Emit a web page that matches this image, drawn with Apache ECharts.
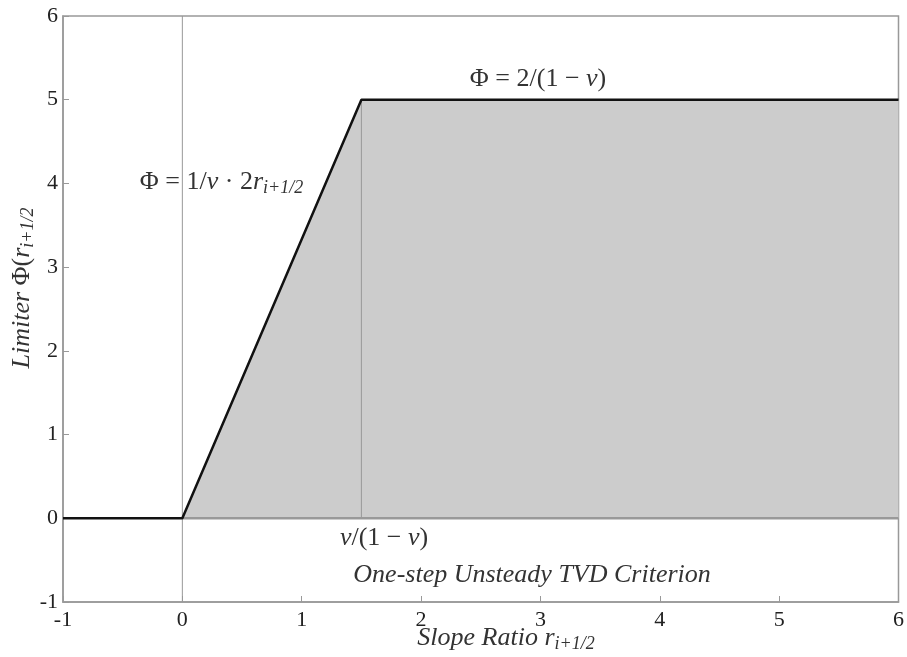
<!DOCTYPE html>
<html><head><meta charset="utf-8">
<script src="https://cdn.jsdelivr.net/npm/echarts@6/dist/echarts.min.js"></script>
<style>html,body{margin:0;padding:0;background:#fff}#c{width:907px;height:657px}</style>
</head><body><div id="c"></div>
<script>
// ---- data ----
const xTicks = [-1, 0, 1, 2, 3, 4, 5, 6];
const yTicks = [-1, 0, 1, 2, 3, 4, 5, 6];
const limiterX = [-1, 0, 1.5, 6];
const limiterY = [0, 0, 5, 5];
const regionX = [0, 1.5, 6];
const regionY = [0, 5, 5];
const ratioX = 1.5;        // v/(1-v)
const ratioTop = 5;        // 2/(1-v)

const FONT = '"Liberation Serif", "DejaVu Serif", serif';
const chart = echarts.init(document.getElementById('c'), null, {renderer: 'canvas'});

const pts = (xs, ys) => xs.map((x, i) => [x, ys[i]]);

const axisCommon = {
  min: -1, max: 6, interval: 1,
  axisLine: {show: true, onZero: false, lineStyle: {color: '#999', width: 1.5}},
  axisTick: {show: true, inside: true, length: 6, lineStyle: {color: '#999'}},
  splitLine: {show: false},
  axisLabel: {fontFamily: FONT, fontSize: 22, color: '#222'}
};

chart.setOption({
  animation: false,
  grid: {left: 63, right: 7, top: 16, bottom: 55, show: true, borderColor: '#999', borderWidth: 1.5},
  xAxis: Object.assign({}, axisCommon, {type: 'value', axisLabel: Object.assign({}, axisCommon.axisLabel, {margin: 7, formatter: v => xTicks.includes(v) ? String(v) : ''})}),
  yAxis: Object.assign({}, axisCommon, {type: 'value', axisLabel: Object.assign({}, axisCommon.axisLabel, {margin: 5, formatter: v => yTicks.includes(v) ? String(v) : ''})}),
  series: [
    {type: 'line', data: pts(regionX, regionY), symbol: 'none', lineStyle: {width: 0},
     areaStyle: {color: '#cccccc', opacity: 1, origin: 'auto'}, z: 1},
    {type: 'line', data: [[0, -1], [0, 6]], symbol: 'none', lineStyle: {color: '#999', width: 1}, z: 2},
    {type: 'line', data: [[ratioX, 0], [ratioX, ratioTop]], symbol: 'none', lineStyle: {color: '#999', width: 1}, z: 2},
    {type: 'line', data: [[0, 0], [6, 0]], symbol: 'none', lineStyle: {color: '#999', width: 2.5}, z: 2},
    {type: 'line', data: pts(limiterX, limiterY), symbol: 'none', lineStyle: {color: '#111', width: 2.5}, z: 3}
  ]
});

function P(x, y) { return chart.convertToPixel({gridIndex: 0}, [x, y]); }
const FS = 26;
const it = {fontFamily: FONT, fontStyle: 'italic', fontSize: FS, color: '#333'};
const up = {fontFamily: FONT, fontSize: FS, color: '#333'};
const sub = {fontFamily: FONT, fontStyle: 'italic', fontSize: 18, color: '#333', padding: [13, 0, 0, 0]};
const rich = {it: it, up: up, sub: sub};

function txt(pos, text, align, extra) {
  return Object.assign({type: 'text', x: pos[0], y: pos[1], z: 10,
    style: {text: text, rich: rich, align: align, verticalAlign: 'middle', fontFamily: FONT, fontSize: FS, fill: '#333'}}, extra || {});
}

const p1 = P(2.98, 5.24);
const p2 = P(-0.356, 4.02);
const p3 = P(1.69, -0.235);
const p4 = P(2.93, -0.68);

chart.setOption({graphic: [
  txt(p1, '{up|Φ = 2/(1 − }{it|v}{up|)}', 'center'),
  txt(p2, '{up|Φ = 1/}{it|v}{up| · 2}{it|r}{sub|i+1/2}', 'left'),
  txt(p3, '{it|v}{up|/(1 − }{it|v}{up|)}', 'center'),
  txt(p4, '{it|One-step Unsteady TVD Criterion}', 'center'),
  txt([506, 638], '{it|Slope Ratio }{it|r}{sub|i+1/2}', 'center'),
  txt([22, 288], '{it|Limiter }{up|Φ(}{it|r}{sub|i+1/2}', 'center', {rotation: Math.PI / 2})
]});
</script></body></html>
